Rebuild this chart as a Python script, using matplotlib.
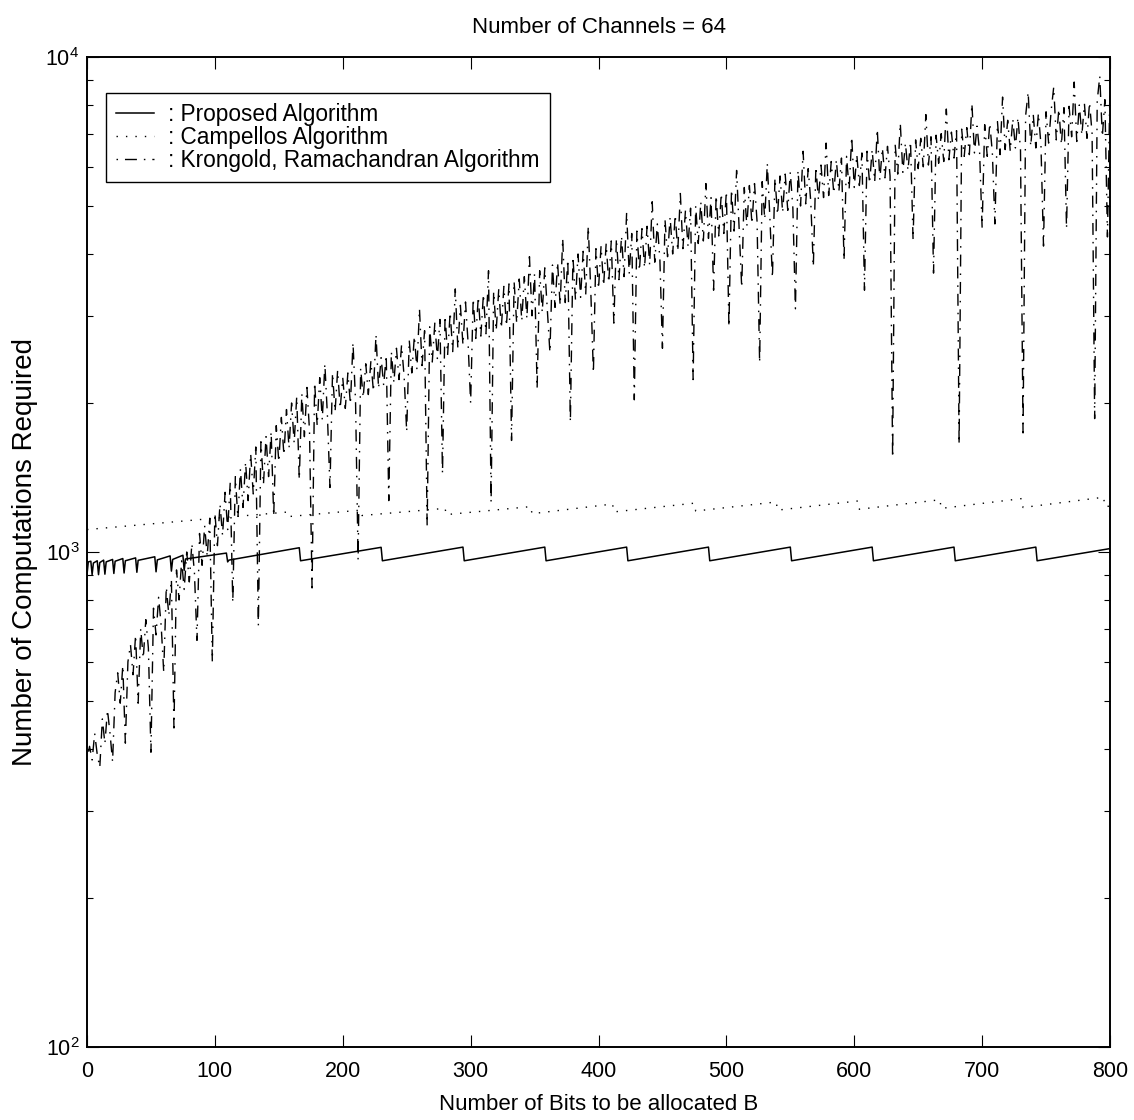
import matplotlib
matplotlib.use("Agg")
import matplotlib.pyplot as plt
import numpy as np
from matplotlib.ticker import NullFormatter

# ---------------- data ----------------
# Proposed algorithm: sawtooth, vertices (B, computations)
prop_B = [0, 1, 3, 4, 5, 8, 9, 10, 13, 14, 15, 20, 21, 22, 28, 29, 30, 38, 39, 40,
          53, 54, 55, 65, 66, 67, 75, 76, 77, 109, 110, 111, 166, 167, 230, 231,
          294, 295, 358, 359, 422, 423, 486, 487, 550, 551, 614, 615, 678, 679,
          742, 743, 800]
prop_val = [900, 955, 958, 900, 950, 960, 900, 952, 963, 902, 955, 966, 905, 958,
            970, 907, 960, 973, 910, 962, 978, 912, 964, 982, 915, 966, 985, 918,
            968, 995, 955, 963, 1020, 960, 1022, 960, 1023, 960, 1023, 960, 1023,
            960, 1023, 960, 1023, 960, 1023, 960, 1023, 960, 1023, 960, 1016]

# Campello's algorithm: slowly rising, small sawtooth
camp_B = [0, 100, 158, 159, 214, 215, 280, 281, 347, 348, 411, 412, 475, 476,
          539, 540, 603, 604, 667, 668, 731, 732, 795, 796, 800]
camp_val = [1110, 1170, 1205, 1180, 1215, 1185, 1225, 1190, 1235, 1195, 1250,
            1205, 1255, 1210, 1262, 1215, 1268, 1220, 1275, 1225, 1282, 1230,
            1290, 1235, 1238]

# Krongold, Ramachandran algorithm: values at B = 0, 2, 4, ..., 800
kr_0 = [380, 405, 380, 430, 390, 367, 460, 410, 480, 430, 377, 520, 570, 495, 590,
        411, 600, 650, 565, 680, 495, 700, 610, 730, 640]
kr_50 = [394, 770, 680, 810, 710, 572, 850, 745, 880, 441, 920, 800, 960, 840, 1000,
         870, 1040, 910, 663, 1090, 940, 1130, 980, 1170, 600]
kr_100 = [1200, 1030, 1250, 1080, 1320, 1110, 1380, 790, 1420, 1170, 1470, 1230,
          1520, 1270, 1580, 1310, 1630, 710, 1670, 1370, 1710, 1420, 1750, 1180, 1800]
kr_150 = [1520, 1870, 1570, 1940, 1620, 2000, 1660, 2060, 1400, 2090, 1710, 2150,
          1760, 846, 2200, 1800, 2250, 1850, 2400, 1890, 1350, 2300, 1920, 2330, 1950]
kr_200 = [2250, 1950, 2300, 1990, 2650, 2020, 964, 2350, 2050, 2400, 2080, 2430,
          2110, 2750, 2140, 2470, 2170, 2500, 1270, 2540, 2200, 2580, 2230, 2620, 2260]
kr_250 = [1750, 2680, 2300, 2730, 2340, 3100, 2380, 2800, 1130, 2850, 2420, 2900,
          2460, 2950, 1440, 3000, 2500, 3050, 2540, 3400, 2580, 3150, 2620, 3200, 2650]
kr_300 = [2000, 3250, 2700, 3280, 2730, 3320, 2760, 3700, 1260, 3360, 2800, 3400,
          2830, 3440, 2860, 3480, 1680, 3520, 2900, 3560, 2930, 3600, 2960, 3950, 3000]
kr_350 = [3650, 2140, 3700, 3050, 3750, 3080, 2530, 3800, 3120, 3850, 3150, 4300,
          3190, 3900, 1830, 3950, 3230, 4000, 3270, 4050, 3310, 4550, 3350, 2300, 4100]
kr_400 = [3400, 4150, 3450, 4200, 3500, 4250, 2900, 4300, 3550, 4350, 3600, 4850,
          3650, 4400, 2030, 4450, 3700, 4500, 3750, 4550, 3800, 5100, 3850, 4600, 3900]
kr_450 = [2580, 4700, 3950, 4750, 4000, 4800, 4050, 5300, 4100, 4900, 4150, 4950,
          2230, 5000, 4200, 5100, 4250, 5550, 4300, 5200, 3380, 5250, 4350, 5300, 4400]
kr_500 = [5350, 2850, 5400, 4450, 5900, 4500, 3420, 5450, 4550, 5500, 4600, 5550,
          4650, 2410, 5600, 4700, 6100, 4750, 3580, 5700, 4800, 5750, 4850, 5800, 4900]
kr_550 = [5850, 4950, 3100, 5900, 5000, 6450, 5050, 5950, 5100, 3770, 6000, 5150,
          6050, 5200, 6700, 5250, 6150, 5300, 6200, 5350, 6250, 3880, 6300, 5400, 6900]
kr_600 = [5450, 6350, 5500, 6400, 3380, 6450, 5550, 6500, 5600, 7150, 5650, 6550,
          5700, 6600, 5750, 1550, 6650, 5800, 7350, 5850, 6700, 5900, 6750, 4270, 6800]
kr_650 = [5950, 6850, 6000, 7650, 6050, 6900, 3660, 6950, 6100, 7000, 6150, 7850,
          6200, 7050, 6250, 7100, 1650, 7150, 6300, 7200, 6350, 8050, 6400, 7250, 6450]
kr_700 = [4520, 7300, 6300, 7350, 6400, 4600, 7400, 6350, 8300, 6500, 7450, 6450,
          7500, 6550, 7550, 6500, 1740, 7600, 8500, 6600, 7650, 6550, 7700, 6650, 4150]
kr_750 = [7750, 6700, 7800, 8700, 6800, 7850, 6650, 7900, 4500, 7950, 6900, 8900,
          6750, 8000, 6950, 8050, 6850, 8100, 7000, 1860, 8150, 9150, 6900, 8200, 4330]
kr_800 = [8800]

kr_val = (kr_0 + kr_50 + kr_100 + kr_150 + kr_200 + kr_250 + kr_300 + kr_350 +
          kr_400 + kr_450 + kr_500 + kr_550 + kr_600 + kr_650 + kr_700 + kr_750 + kr_800)
kr_B = np.arange(0, 801, 2)

x_ticks = [0, 100, 200, 300, 400, 500, 600, 700, 800]
labels = [": Proposed Algorithm", ": Campellos Algorithm",
          ": Krongold, Ramachandran Algorithm"]
title = "Number of Channels = 64"
xlabel = "Number of Bits to be allocated B"
ylabel = "Number of Computations Required"

# ---------------- figure ----------------
plt.rcParams['font.family'] = ['Liberation Sans', 'DejaVu Sans']
plt.rcParams['mathtext.fontset'] = 'custom'
plt.rcParams['mathtext.rm'] = 'Liberation Sans'
plt.rcParams['mathtext.it'] = 'Liberation Sans:italic'
plt.rcParams['mathtext.default'] = 'regular'

fig = plt.figure(figsize=(11.34, 11.2), dpi=100)
ax = fig.add_axes([87 / 1134, 73 / 1120, 1023 / 1134, 990 / 1120])

ax.plot(prop_B, prop_val, color='k', lw=1.1, label=labels[0])
ax.plot(camp_B, camp_val, color='k', lw=1.0, linestyle=(0, (1.0, 5.8)),
        label=labels[1])
ax.plot(kr_B, kr_val, color='k', lw=1.0,
        linestyle=(13.6, (8.6, 5.0, 1.1, 5.0)), label=labels[2])

ax.set_yscale('log')
ax.set_xlim(0, 800)
ax.set_ylim(100, 10000)
ax.set_xticks(x_ticks)
ax.yaxis.set_minor_formatter(NullFormatter())

ax.tick_params(which='both', direction='in', top=True, right=True,
               width=0.8, labelsize=15.5, color='k')
ax.tick_params(which='major', length=8.5)
ax.tick_params(which='minor', length=4)
ax.tick_params(axis='x', pad=10)
ax.tick_params(axis='y', pad=5.5)
for s in ax.spines.values():
    s.set_linewidth(1.4)

ax.set_title(title, fontsize=16, pad=17)
ax.set_xlabel(xlabel, fontsize=16, labelpad=9)
ax.set_ylabel(ylabel, fontsize=20, labelpad=5)

leg = ax.legend(loc='upper left', bbox_to_anchor=(19 / 1023, (1047 - 93) / 990),
                borderaxespad=0, fontsize=16.3, handlelength=1.68,
                handletextpad=0.62, labelspacing=0.0, borderpad=0.45,
                frameon=True, fancybox=False, edgecolor='k', framealpha=1)
leg.get_frame().set_linewidth(1.0)

fig.savefig("out.png", dpi=100)
